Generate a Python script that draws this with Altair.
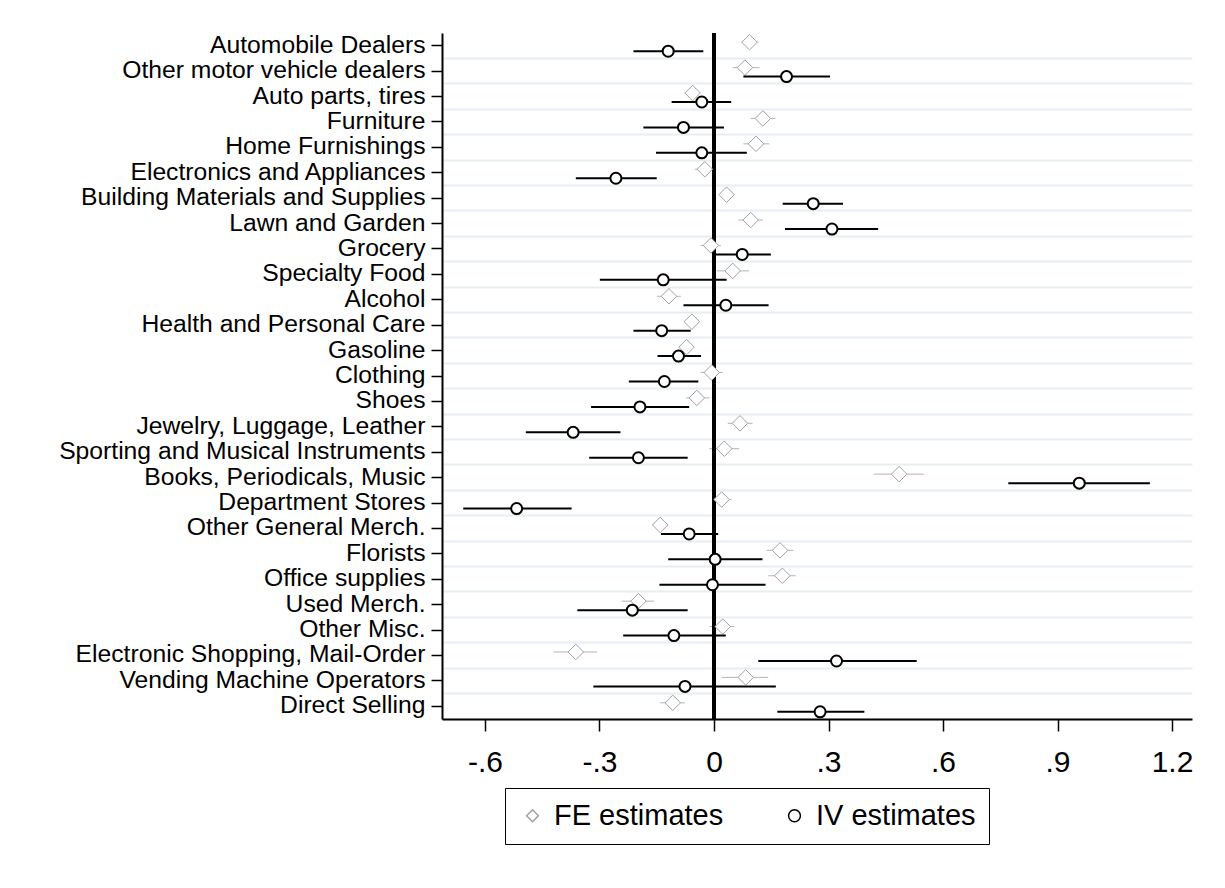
import json
import altair as alt
import pandas as pd

CATEGORIES = [
    "Automobile Dealers", "Other motor vehicle dealers", "Auto parts, tires",
    "Furniture", "Home Furnishings", "Electronics and Appliances",
    "Building Materials and Supplies", "Lawn and Garden", "Grocery",
    "Specialty Food", "Alcohol", "Health and Personal Care", "Gasoline",
    "Clothing", "Shoes", "Jewelry, Luggage, Leather",
    "Sporting and Musical Instruments", "Books, Periodicals, Music",
    "Department Stores", "Other General Merch.", "Florists",
    "Office supplies\u00a0", "Used Merch.", "Other Misc.\u00a0",
    "Electronic Shopping, Mail-Order", "Vending Machine Operators",
    "Direct Selling",
]

SERIES = ["FE estimates", "IV estimates"]

FE_EST = [0.093, 0.081, -0.056, 0.128, 0.110, -0.024, 0.033, 0.096, -0.008,
          0.049, -0.118, -0.058, -0.072, -0.006, -0.045, 0.068, 0.027, 0.485,
          0.020, -0.141, 0.173, 0.179, -0.198, 0.023, -0.362, 0.083, -0.108]
FE_LO = [0.073, 0.049, -0.070, 0.096, 0.077, -0.050, 0.018, 0.064, -0.035,
         0.007, -0.150, -0.072, -0.086, -0.035, -0.073, 0.036, -0.012, 0.419,
         0.001, -0.160, 0.138, 0.142, -0.242, -0.012, -0.421, 0.020, -0.141]
FE_HI = [0.116, 0.119, -0.042, 0.161, 0.145, 0.005, 0.048, 0.128, 0.018,
         0.092, -0.087, -0.044, -0.058, 0.023, -0.012, 0.101, 0.066, 0.550,
         0.046, -0.122, 0.208, 0.214, -0.157, 0.053, -0.306, 0.142, -0.076]

IV_EST = [-0.120, 0.190, -0.032, -0.080, -0.032, -0.257, 0.260, 0.309, 0.074,
          -0.133, 0.031, -0.137, -0.093, -0.130, -0.194, -0.369, -0.198, 0.957,
          -0.517, -0.065, 0.003, -0.004, -0.214, -0.105, 0.321, -0.076, 0.278]
IV_LO = [-0.211, 0.077, -0.111, -0.185, -0.152, -0.362, 0.180, 0.186, -0.002,
         -0.299, -0.080, -0.211, -0.148, -0.223, -0.322, -0.493, -0.327, 0.771,
         -0.657, -0.139, -0.120, -0.143, -0.358, -0.238, 0.116, -0.316, 0.166]
IV_HI = [-0.028, 0.304, 0.045, 0.026, 0.086, -0.150, 0.338, 0.430, 0.149,
         0.033, 0.143, -0.061, -0.034, -0.041, -0.065, -0.245, -0.069, 1.142,
         -0.373, 0.011, 0.127, 0.135, -0.069, 0.031, 0.531, 0.162, 0.394]

TICK_VALUES = [-0.6, -0.3, 0, 0.3, 0.6, 0.9, 1.2]
TICK_LABELS = ["-.6", "-.3", "0", ".3", ".6", ".9", "1.2"]
X_DOMAIN = [-0.7126, 1.2523]

rows = []
for i, c in enumerate(CATEGORIES):
    rows.append(dict(category=c, series=SERIES[0], est=FE_EST[i], lo=FE_LO[i], hi=FE_HI[i]))
    rows.append(dict(category=c, series=SERIES[1], est=IV_EST[i], lo=IV_LO[i], hi=IV_HI[i]))
df = pd.DataFrame(rows)

FONT = "Liberation Sans, Arial, sans-serif"

xscale = alt.Scale(domain=X_DOMAIN, nice=False, zero=False)
yscale = alt.Scale(type="band", domain=CATEGORIES, paddingInner=0, paddingOuter=0)

label_expr = f"{json.dumps(TICK_LABELS)}[indexof({json.dumps(TICK_VALUES)}, datum.value)]"

x_axis = alt.Axis(values=TICK_VALUES, labelExpr=label_expr, grid=False,
                  tickSize=12, tickWidth=1.5, tickColor="black",
                  domainColor="black", domainWidth=2,
                  labelFontSize=30, labelFont=FONT, labelColor="black",
                  labelPadding=16)

y_main_axis = alt.Axis(grid=False, tickSize=11, tickWidth=1.5, tickColor="black",
                       domainColor="black", domainWidth=2,
                       labelFontSize=24.7, labelFont=FONT, labelColor="black",
                       labelPadding=6, labelLimit=0, bandPosition=0.5)
y_grid_axis = alt.Axis(orient="right", grid=True, gridColor="#e6eef1", gridWidth=2,
                       bandPosition=1, labels=False, ticks=False, domain=False)

legend = alt.Legend(orient="none", legendX=63, legendY=755, direction="horizontal",
                    strokeColor="black", padding=13,
                    labelFontSize=29, labelFont=FONT, labelColor="black",
                    labelLimit=0, labelOffset=7, columnPadding=56, symbolSize=140,
                    symbolStrokeWidth=1.5, title=None)

color_scale = alt.Scale(domain=SERIES, range=["#a0a0a0", "black"])
shape_scale = alt.Scale(domain=SERIES, range=["diamond", "circle"])

base = alt.Chart(df)
fe = base.transform_filter(alt.datum.series == SERIES[0])
iv = base.transform_filter(alt.datum.series == SERIES[1])

FE_OFF = -3.5
IV_OFF = 5.5

fe_ci = fe.mark_rule(color="#b4b4b4", strokeWidth=1, yOffset=FE_OFF).encode(
    x=alt.X("lo:Q", scale=xscale, axis=x_axis, title=None),
    x2="hi:Q",
    y=alt.Y("category:N", scale=yscale, axis=y_grid_axis, title=None),
)

zero = base.mark_rule(color="black", strokeWidth=2.5).encode(
    x=alt.XDatum(0, scale=xscale, axis=x_axis),
)

fe_pts = fe.mark_point(filled=False, fill="white", strokeWidth=1, size=240,
                       yOffset=FE_OFF, opacity=1).encode(
    x=alt.X("est:Q", scale=xscale, axis=x_axis, title=None),
    y=alt.Y("category:N", scale=yscale, axis=y_main_axis, title=None),
    color=alt.Color("series:N", scale=color_scale, legend=legend),
    shape=alt.Shape("series:N", scale=shape_scale, legend=legend),
)

iv_ci = iv.mark_rule(color="black", strokeWidth=2, yOffset=IV_OFF).encode(
    x=alt.X("lo:Q", scale=xscale, axis=x_axis, title=None),
    x2="hi:Q",
    y=alt.Y("category:N", scale=yscale, axis=y_main_axis, title=None),
)

iv_pts = iv.mark_point(filled=False, fill="white", strokeWidth=2, size=121,
                       yOffset=IV_OFF, opacity=1).encode(
    x=alt.X("est:Q", scale=xscale, axis=x_axis, title=None),
    y=alt.Y("category:N", scale=yscale, axis=y_main_axis, title=None),
    color=alt.Color("series:N", scale=color_scale, legend=legend),
    shape=alt.Shape("series:N", scale=shape_scale, legend=legend),
)

inner = alt.layer(zero, fe_pts, iv_ci, iv_pts)

chart = alt.layer(fe_ci, inner).resolve_axis(y="independent").properties(
    width=750, height=686,
    padding={"left": 434, "top": 25, "right": 16, "bottom": 140},
    autosize=alt.AutoSizeParams(type="none"),
    background="white",
).configure_view(stroke="transparent")

chart.save("out.html", embed_options={"renderer": "svg", "actions": False})
